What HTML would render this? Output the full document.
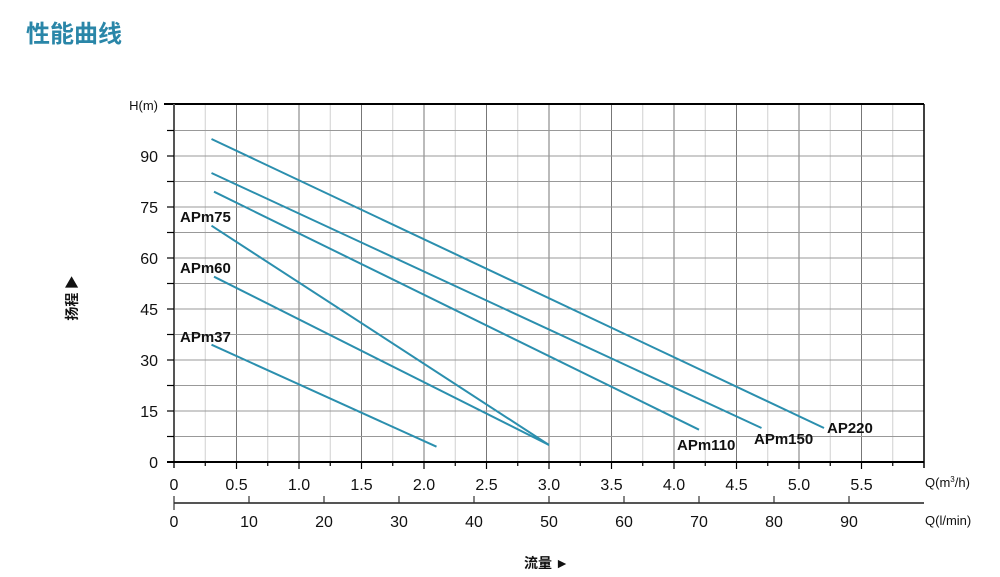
<!DOCTYPE html>
<html><head><meta charset="utf-8"><style>
html,body{margin:0;padding:0;background:#fff;}
svg{display:block;font-family:"Liberation Sans","Noto Sans CJK SC",sans-serif;}
</style></head><body>
<svg width="1000" height="577" viewBox="0 0 1000 577" xmlns="http://www.w3.org/2000/svg">
<text x="26" y="42" font-size="24" font-weight="bold" fill="#2a86a8" font-family="Noto Sans CJK SC, sans-serif">性能曲线</text>
<g stroke-width="1">
<g stroke="#d0d0d0">
<line x1="205.25" y1="104" x2="205.25" y2="462"/><line x1="267.75" y1="104" x2="267.75" y2="462"/><line x1="330.25" y1="104" x2="330.25" y2="462"/><line x1="392.75" y1="104" x2="392.75" y2="462"/><line x1="455.25" y1="104" x2="455.25" y2="462"/><line x1="517.75" y1="104" x2="517.75" y2="462"/><line x1="580.25" y1="104" x2="580.25" y2="462"/><line x1="642.75" y1="104" x2="642.75" y2="462"/><line x1="705.25" y1="104" x2="705.25" y2="462"/><line x1="767.75" y1="104" x2="767.75" y2="462"/><line x1="830.25" y1="104" x2="830.25" y2="462"/><line x1="892.75" y1="104" x2="892.75" y2="462"/>
</g>
<g stroke="#777">
<line x1="236.5" y1="104" x2="236.5" y2="462"/><line x1="299" y1="104" x2="299" y2="462"/><line x1="361.5" y1="104" x2="361.5" y2="462"/><line x1="424" y1="104" x2="424" y2="462"/><line x1="486.5" y1="104" x2="486.5" y2="462"/><line x1="549" y1="104" x2="549" y2="462"/><line x1="611.5" y1="104" x2="611.5" y2="462"/><line x1="674" y1="104" x2="674" y2="462"/><line x1="736.5" y1="104" x2="736.5" y2="462"/><line x1="799" y1="104" x2="799" y2="462"/><line x1="861.5" y1="104" x2="861.5" y2="462"/>
</g>
<g stroke="#999">
<line x1="174" y1="436.5" x2="924" y2="436.5"/><line x1="174" y1="411" x2="924" y2="411"/><line x1="174" y1="385.5" x2="924" y2="385.5"/><line x1="174" y1="360" x2="924" y2="360"/><line x1="174" y1="334.5" x2="924" y2="334.5"/><line x1="174" y1="309" x2="924" y2="309"/><line x1="174" y1="283.5" x2="924" y2="283.5"/><line x1="174" y1="258" x2="924" y2="258"/><line x1="174" y1="232.5" x2="924" y2="232.5"/><line x1="174" y1="207" x2="924" y2="207"/><line x1="174" y1="181.5" x2="924" y2="181.5"/><line x1="174" y1="156" x2="924" y2="156"/><line x1="174" y1="130.5" x2="924" y2="130.5"/>
</g>
</g>
<line x1="164" y1="104" x2="924" y2="104" stroke="#000" stroke-width="2"/>
<line x1="174" y1="104" x2="174" y2="468" stroke="#555" stroke-width="2"/>
<line x1="924" y1="104" x2="924" y2="468" stroke="#000" stroke-width="1.5"/>
<line x1="167" y1="462" x2="924" y2="462" stroke="#000" stroke-width="2"/>
<g stroke="#000" stroke-width="1.2">
<line x1="167" y1="436.5" x2="174" y2="436.5"/><line x1="167" y1="411" x2="174" y2="411"/><line x1="167" y1="385.5" x2="174" y2="385.5"/><line x1="167" y1="360" x2="174" y2="360"/><line x1="167" y1="334.5" x2="174" y2="334.5"/><line x1="167" y1="309" x2="174" y2="309"/><line x1="167" y1="283.5" x2="174" y2="283.5"/><line x1="167" y1="258" x2="174" y2="258"/><line x1="167" y1="232.5" x2="174" y2="232.5"/><line x1="167" y1="207" x2="174" y2="207"/><line x1="167" y1="181.5" x2="174" y2="181.5"/><line x1="167" y1="156" x2="174" y2="156"/><line x1="167" y1="130.5" x2="174" y2="130.5"/>
<line x1="236.5" y1="462" x2="236.5" y2="469"/><line x1="299" y1="462" x2="299" y2="469"/><line x1="361.5" y1="462" x2="361.5" y2="469"/><line x1="424" y1="462" x2="424" y2="469"/><line x1="486.5" y1="462" x2="486.5" y2="469"/><line x1="549" y1="462" x2="549" y2="469"/><line x1="611.5" y1="462" x2="611.5" y2="469"/><line x1="674" y1="462" x2="674" y2="469"/><line x1="736.5" y1="462" x2="736.5" y2="469"/><line x1="799" y1="462" x2="799" y2="469"/><line x1="861.5" y1="462" x2="861.5" y2="469"/>
<line x1="205.25" y1="462" x2="205.25" y2="466"/><line x1="267.75" y1="462" x2="267.75" y2="466"/><line x1="330.25" y1="462" x2="330.25" y2="466"/><line x1="392.75" y1="462" x2="392.75" y2="466"/><line x1="455.25" y1="462" x2="455.25" y2="466"/><line x1="517.75" y1="462" x2="517.75" y2="466"/><line x1="580.25" y1="462" x2="580.25" y2="466"/><line x1="642.75" y1="462" x2="642.75" y2="466"/><line x1="705.25" y1="462" x2="705.25" y2="466"/><line x1="767.75" y1="462" x2="767.75" y2="466"/><line x1="830.25" y1="462" x2="830.25" y2="466"/><line x1="892.75" y1="462" x2="892.75" y2="466"/>
</g>
<line x1="174" y1="503" x2="924" y2="503" stroke="#555" stroke-width="2"/>
<g stroke="#333" stroke-width="1.2">
<line x1="174" y1="496" x2="174" y2="510"/><line x1="249" y1="496" x2="249" y2="503"/><line x1="324" y1="496" x2="324" y2="503"/><line x1="399" y1="496" x2="399" y2="503"/><line x1="474" y1="496" x2="474" y2="503"/><line x1="549" y1="496" x2="549" y2="503"/><line x1="624" y1="496" x2="624" y2="503"/><line x1="699" y1="496" x2="699" y2="503"/><line x1="774" y1="496" x2="774" y2="503"/><line x1="849" y1="496" x2="849" y2="503"/>
</g>
<g font-size="16" fill="#111" text-anchor="end">
<text x="158" y="468">0</text><text x="158" y="417">15</text><text x="158" y="366">30</text><text x="158" y="315">45</text><text x="158" y="264">60</text><text x="158" y="213">75</text><text x="158" y="162">90</text>
</g>
<text x="158" y="110" font-size="13" text-anchor="end" fill="#111">H(m)</text>
<g font-size="16" fill="#111" text-anchor="middle">
<text x="174" y="490">0</text><text x="236.5" y="490">0.5</text><text x="299" y="490">1.0</text><text x="361.5" y="490">1.5</text><text x="424" y="490">2.0</text><text x="486.5" y="490">2.5</text><text x="549" y="490">3.0</text><text x="611.5" y="490">3.5</text><text x="674" y="490">4.0</text><text x="736.5" y="490">4.5</text><text x="799" y="490">5.0</text><text x="861.5" y="490">5.5</text>
<text x="174" y="527">0</text><text x="249" y="527">10</text><text x="324" y="527">20</text><text x="399" y="527">30</text><text x="474" y="527">40</text><text x="549" y="527">50</text><text x="624" y="527">60</text><text x="699" y="527">70</text><text x="774" y="527">80</text><text x="849" y="527">90</text>
</g>
<text x="925" y="487" font-size="13" fill="#111">Q(m<tspan font-size="8" dy="-5">3</tspan><tspan dy="5">/h)</tspan></text>
<text x="925" y="525" font-size="13" fill="#111">Q(l/min)</text>
<g stroke="#2b8fae" stroke-width="2" fill="none">
<line x1="211.5" y1="139" x2="824" y2="428"/>
<line x1="211.5" y1="173" x2="761.5" y2="428"/>
<line x1="214" y1="191.7" x2="699" y2="429.7"/>
<line x1="211.5" y1="225.7" x2="549" y2="445"/>
<line x1="214" y1="276.7" x2="549" y2="445"/>
<line x1="211.5" y1="344.7" x2="436.5" y2="446.7"/>
</g>
<g font-size="15" font-weight="bold" fill="#111">
<text x="180" y="222">APm75</text><text x="180" y="273">APm60</text><text x="180" y="342">APm37</text>
<text x="677" y="450">APm110</text><text x="754" y="444">APm150</text><text x="827" y="433">AP220</text>
</g>
<text transform="translate(77,298) rotate(-90)" font-size="14" font-weight="bold" fill="#111" text-anchor="middle" font-family="Noto Sans CJK SC, sans-serif">扬程 ▶</text>
<text x="524" y="568" font-size="14" font-weight="bold" fill="#111" font-family="Noto Sans CJK SC, sans-serif">流量 ►</text>
</svg>
</body></html>
